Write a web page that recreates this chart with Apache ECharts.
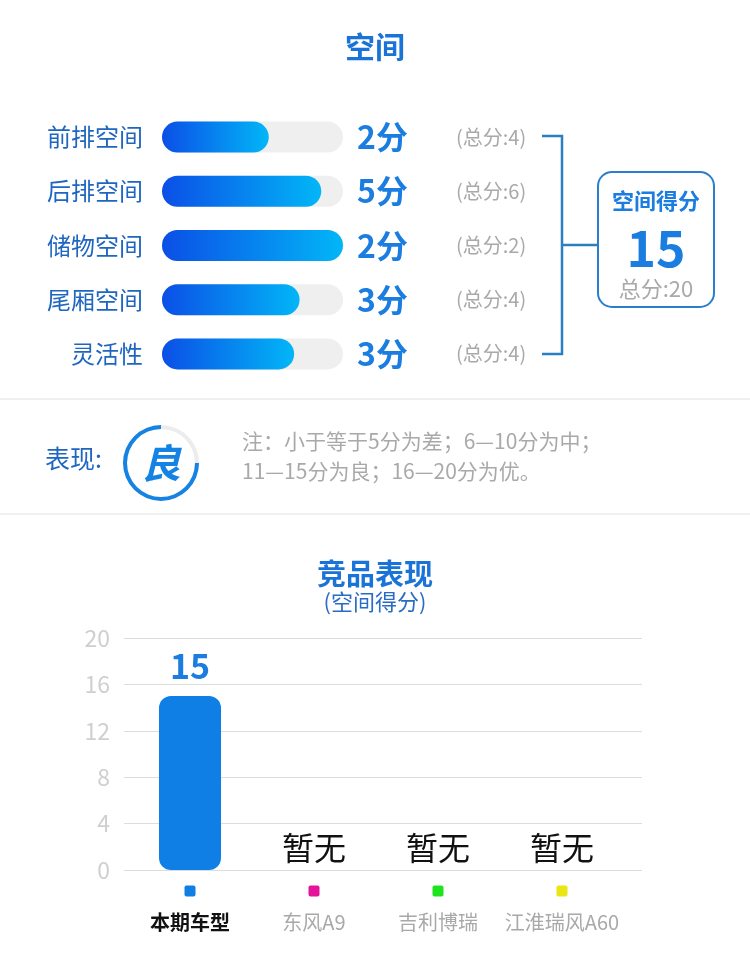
<!DOCTYPE html>
<html>
<head>
<meta charset="utf-8">
<title>空间</title>
<script src="https://cdn.jsdelivr.net/npm/echarts@6.0.0/dist/echarts.min.js"></script>
<style>
  html, body { margin: 0; padding: 0; background: #fff; }
  #main { width: 750px; height: 963px; }
</style>
</head>
<body>
<div id="main"></div>
<script>
// 分项得分
var itemNames = ['前排空间', '后排空间', '储物空间', '尾厢空间', '灵活性'];
var itemScores = [2, 5, 2, 3, 3];
var itemTotals = [4, 6, 2, 4, 4];
var itemFill = [59, 88, 100, 76, 73]; // 进度条长度(%)
var fullScore = 20;

// 竞品
var rivalNames = ['本期车型', '东风A9', '吉利博瑞', '江淮瑞风A60'];
var rivalScores = [15, null, null, null];
var rivalColors = ['#0f7fe6', '#e5139a', '#1ee41e', '#e9e614'];

var FONT = 'Noto Sans CJK SC';
var BLUE = '#1a7ddf';

var total = itemScores.reduce(function (a, b) { return a + b; }, 0);

function grade(s) {
    if (s <= 5) return '差';
    if (s <= 10) return '中';
    if (s <= 15) return '良';
    return '优';
}

var myChart = echarts.init(document.getElementById('main'));

var rich = {
    m: { fontSize: 20, fontWeight: 'bold', color: '#111', lineHeight: 46, fontFamily: FONT },
    n: { fontSize: 20, color: '#a9a9a9', lineHeight: 46, fontFamily: FONT }
};
rivalColors.forEach(function (c, i) {
    rich['d' + i] = { width: 11, height: 11, borderRadius: 2, backgroundColor: c, lineHeight: 16 };
});

var option = {
    animation: false,
    textStyle: { fontFamily: FONT },
    title: [
        {
            text: '空间', left: 'center', top: 27,
            textStyle: { fontSize: 30, fontWeight: 'bold', color: '#1a73d7', fontFamily: FONT }
        },
        {
            text: '竞品表现', subtext: '(空间得分)', left: 'center', top: 554, itemGap: 3,
            textStyle: { fontSize: 29, fontWeight: 'bold', color: '#1a73d7', fontFamily: FONT },
            subtextStyle: { fontSize: 22, color: '#2a6cc4', fontFamily: FONT }
        }
    ],
    grid: [
        { left: 162, width: 181, top: 110, height: 271 },
        // 竞品图：刻度网格
        { left: 124, right: 108, top: 638, height: 232 },
        // 竞品图：柱子
        { left: 128, width: 496, top: 638, height: 232 }
    ],
    xAxis: [
        { gridIndex: 0, type: 'value', min: 0, max: 100, show: false },
        { gridIndex: 1, type: 'category', data: rivalNames, show: false },
        {
            gridIndex: 2, type: 'category', data: rivalNames,
            axisLine: { show: false }, axisTick: { show: false },
            axisLabel: {
                interval: 0, margin: 13, rich: rich,
                formatter: function (v, i) {
                    return '{d' + i + '|}\n{' + (i === 0 ? 'm' : 'n') + '|' + v + '}';
                }
            }
        }
    ],
    yAxis: [
        {
            gridIndex: 0, type: 'category', data: itemNames, inverse: true,
            axisLine: { show: false }, axisTick: { show: false },
            axisLabel: { color: '#1f66c1', fontSize: 24, margin: 19, fontFamily: FONT }
        },
        {
            gridIndex: 0, type: 'category', data: itemNames, inverse: true, position: 'right',
            axisLine: { show: false }, axisTick: { show: false },
            axisLabel: {
                margin: 14, align: 'left',
                formatter: function (v, i) {
                    return '{s|' + itemScores[i] + '分}{t|(总分:' + itemTotals[i] + ')}';
                },
                rich: {
                    s: { width: 99, fontSize: 32, fontWeight: 'bold', color: BLUE, verticalAlign: 'middle', fontFamily: FONT },
                    t: { fontSize: 20, color: '#a9a9a9', verticalAlign: 'middle', fontFamily: FONT }
                }
            }
        },
        {
            gridIndex: 1, type: 'value', min: 0, max: 20, interval: 4,
            axisLine: { show: false }, axisTick: { show: false },
            axisLabel: { color: '#cfcfcf', fontSize: 23, margin: 14, fontFamily: FONT },
            splitLine: { lineStyle: { color: '#dddddd', width: 1 } }
        },
        { gridIndex: 2, type: 'value', min: 0, max: 20, interval: 4, show: false, splitLine: { show: false } }
    ],
    series: [
        {
            type: 'bar', xAxisIndex: 0, yAxisIndex: 0,
            data: itemFill, barWidth: 31,
            showBackground: true,
            backgroundStyle: { color: '#efefef', borderRadius: 16 },
            itemStyle: {
                borderRadius: 16,
                color: new echarts.graphic.LinearGradient(0, 0, 1, 0, [
                    { offset: 0, color: '#0b4fe6' },
                    { offset: 1, color: '#02b6f7' }
                ])
            }
        },
        {
            type: 'bar', xAxisIndex: 2, yAxisIndex: 3, barWidth: 62,
            data: rivalScores.map(function (v, i) {
                if (v == null) {
                    return {
                        value: 0,
                        label: { formatter: '暂无', color: '#111', fontSize: 32, fontWeight: 'normal', distance: 6 }
                    };
                }
                return { value: v, itemStyle: { color: rivalColors[i] } };
            }),
            itemStyle: { borderRadius: 12 },
            label: { show: true, position: 'top', distance: 13, color: BLUE, fontSize: 34, fontWeight: 'bold', fontFamily: FONT }
        },
        {
            type: 'gauge', center: [161, 463], radius: 38,
            startAngle: 0, endAngle: -360, min: 0, max: fullScore,
            progress: { show: true, width: 4, itemStyle: { color: '#1583e3' } },
            axisLine: { lineStyle: { width: 4, color: [[1, '#ececec']] } },
            pointer: { show: false }, anchor: { show: false },
            axisTick: { show: false }, splitLine: { show: false }, axisLabel: { show: false },
            title: { show: false },
            detail: {
                offsetCenter: [0, 0], formatter: grade,
                fontSize: 40, fontWeight: 'bold', fontStyle: 'italic', color: '#1583e3', fontFamily: FONT
            },
            data: [{ value: total }]
        }
    ],
    graphic: [
        // 分隔线
        { type: 'line', shape: { x1: 0, y1: 399, x2: 750, y2: 399 }, style: { stroke: '#ebebeb', lineWidth: 1.5 } },
        { type: 'line', shape: { x1: 0, y1: 514, x2: 750, y2: 514 }, style: { stroke: '#ebebeb', lineWidth: 1.5 } },
        // 括号
        {
            type: 'polyline', shape: { points: [[542, 136], [562, 136], [562, 354], [542, 354]] },
            style: { stroke: '#2a7fc0', lineWidth: 2.5, fill: null }
        },
        { type: 'line', shape: { x1: 562, y1: 245, x2: 597, y2: 245 }, style: { stroke: '#2a7fc0', lineWidth: 2.5 } },
        // 总分框
        {
            type: 'rect', shape: { x: 598, y: 172, width: 116, height: 135, r: 14 },
            style: { fill: '#fff', stroke: '#2a7fcc', lineWidth: 2 }
        },
        {
            type: 'text', x: 656, y: 201,
            style: { text: '空间得分', fill: BLUE, fontSize: 22, fontWeight: 'bold', fontFamily: FONT, textAlign: 'center', textVerticalAlign: 'middle' }
        },
        {
            type: 'text', x: 656, y: 248,
            style: { text: String(total), fill: BLUE, fontSize: 50, fontWeight: 'bold', fontFamily: FONT, textAlign: 'center', textVerticalAlign: 'middle' }
        },
        {
            type: 'text', x: 656, y: 289,
            style: { text: '总分:' + fullScore, fill: '#a9a9a9', fontSize: 22, fontFamily: FONT, textAlign: 'center', textVerticalAlign: 'middle' }
        },
        // 表现
        {
            type: 'text', x: 45, y: 458,
            style: { text: '表现:', fill: '#1f66c1', fontSize: 25, fontFamily: FONT, textVerticalAlign: 'middle' }
        },
        {
            type: 'text', x: 242, y: 441,
            style: { text: '注：小于等于5分为差；6—10分为中；', fill: '#a9a9a9', fontSize: 21, fontFamily: FONT, textVerticalAlign: 'middle' }
        },
        {
            type: 'text', x: 242, y: 471,
            style: { text: '11—15分为良；16—20分为优。', fill: '#a9a9a9', fontSize: 21, fontFamily: FONT, textVerticalAlign: 'middle' }
        }
    ]
};

myChart.setOption(option);
window.addEventListener('resize', function () {
    myChart.resize();
});
</script>
</body>
</html>
